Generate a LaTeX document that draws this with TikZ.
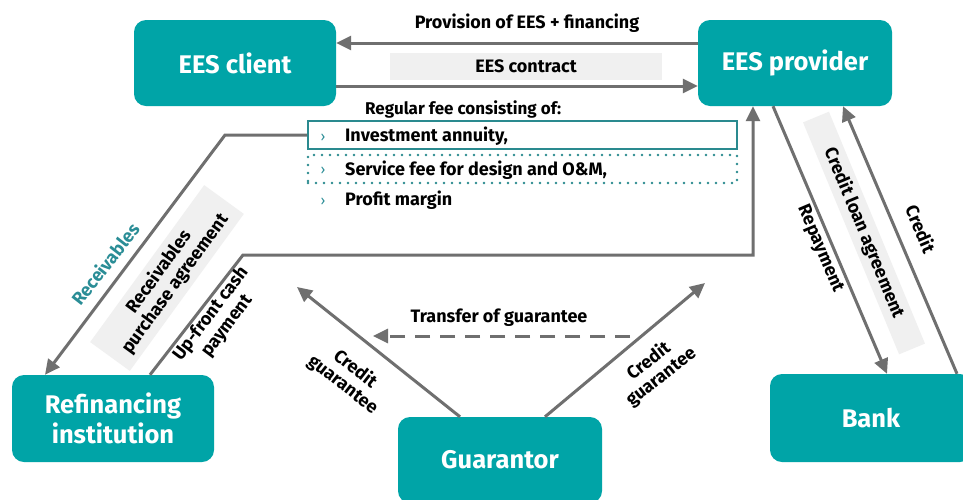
\documentclass[tikz,border=0pt]{standalone}
\usepackage{fontspec}
\setmainfont{Fira Sans}
\usetikzlibrary{arrows.meta}
\definecolor{tealfill}{HTML}{00A4A7}
\definecolor{tealtext}{HTML}{2A8D96}
\definecolor{tealline}{HTML}{2A8A8F}
\definecolor{arrowgray}{HTML}{6F6F6F}
\definecolor{bggray}{HTML}{F0F0F0}
\tikzset{
  box/.style={fill=tealfill, rounded corners=12pt, text=white,
    font=\fontsize{25.5}{30}\selectfont\bfseries, align=center, inner sep=0pt},
  arr/.style={draw=arrowgray, line width=3pt, -{Triangle[length=15pt,width=14pt]}},
  lbl/.style={font=\fontsize{18}{20}\selectfont\bfseries, text=black, align=center, inner sep=0pt},
  bgbox/.style={fill=bggray, inner sep=0pt},
  chev/.style={font=\fontsize{14}{14}\selectfont, text=tealtext, inner sep=0pt},
}
\begin{document}
\begin{tikzpicture}[x=1pt,y=-1pt]
\useasboundingbox (0,0) rectangle (963,499);
\fill[white] (0,0) rectangle (963,499);

% main boxes
\node[box, minimum width=202pt, minimum height=86pt] (client) at (235,63) {EES client};
\node[box, minimum width=194pt, minimum height=86pt] (provider) at (795,63) {EES provider};
\node[box, minimum width=202pt, minimum height=87pt] (refin) at (113,418.5) {Refinancing\\institution};
\node[box, minimum width=204pt, minimum height=86pt] (guarantor) at (500,460) {Guarantor};
\node[box, minimum width=202pt, minimum height=88pt] (bank) at (871,418) {Bank};

% top arrows
\node[bgbox, minimum width=272pt, minimum height=27pt] (contractbg) at (526,66.5) {};
\node[lbl] (contractlbl) at (526,66.5) {EES contract};
\draw[arr] ([yshift=20pt]provider.west) -- ([yshift=20pt]client.east);
\node[lbl] (provlbl) at (527,23) {Provision of EES + financing};
\draw[arr] ([yshift=-23pt]client.east) -- ([yshift=-23pt]provider.west);

% fee list
\node[lbl, font=\fontsize{17}{20}\selectfont\bfseries, anchor=base west] (feehead) at (365,114) {Regular fee consisting of:};
\node[draw=tealline, line width=2pt, minimum width=429pt, minimum height=28pt, inner sep=0pt] (fee1) at (522.5,135) {};
\node[draw=tealline, line width=2.6pt, line cap=round, dash pattern=on 0pt off 8pt, minimum width=429pt, minimum height=28pt, inner sep=0pt] (fee2) at (522.5,169) {};
\node[chev] (c1) at (323,138) {›};
\node[chev] (c2) at (323,171) {›};
\node[chev] (c3) at (323,202) {›};
\node[lbl, anchor=base west] (t1) at (345,141.5) {Investment annuity,};
\node[lbl, anchor=base west] (t2) at (345,175) {Service fee for design and O\&M,};
\node[lbl, anchor=base west] (t3) at (345,205) {Profit margin};

% receivables
\node[bgbox, lbl, rotate=54, minimum width=194pt, minimum height=49pt] (rpa) at (167,278) {Receivables\\purchase agreement};
\coordinate (rcorner) at (225,135);
\draw[arr] (fee1.west) -- (rcorner) -- ([xshift=-68pt]refin.north);
\node[lbl, text=tealtext, rotate=52] (reclbl) at (105,264) {Receivables};

% up-front cash payment
\coordinate (u1) at (243,255);
\coordinate (u2) at (753,255);
\draw[arr] ([xshift=37pt]refin.north) -- (u1) -- (u2) -- (u2 |- provider.south);
\node[lbl, rotate=53] (uplbl) at (219,320) {Up-front cash\\payment};

% guarantor
\coordinate (gl) at (297,287);
\coordinate (gr) at (705,283);
\draw[arr] ([xshift=-40pt]guarantor.north) -- (gl);
\draw[arr] ([xshift=45pt]guarantor.north) -- (gr);
\node[lbl, rotate=-38] (cgl) at (349,377) {Credit\\guarantee};
\node[lbl, rotate=38] (cgr) at (655,369) {Credit\\guarantee};
\coordinate (ts) at (630,336);
\coordinate (te) at (373,336);
\draw[arr, dash pattern=on 15pt off 10pt] (ts) -- (te);
\node[lbl] (tlbl) at (499,318) {Transfer of guarantee};

% bank
\node[bgbox, lbl, rotate=-67.5, minimum width=251pt, minimum height=28pt] (cla) at (864,233) {Credit loan agreement};
\draw[arr] ([xshift=-22pt]provider.south) -- ([xshift=16pt]bank.north);
\draw[arr] ([xshift=86pt]bank.north) -- ([xshift=48pt]provider.south);
\node[lbl, rotate=-67] (replbl) at (820,249) {Repayment};
\node[lbl, rotate=-67] (credlbl) at (921,229) {Credit};
\end{tikzpicture}
\end{document}
